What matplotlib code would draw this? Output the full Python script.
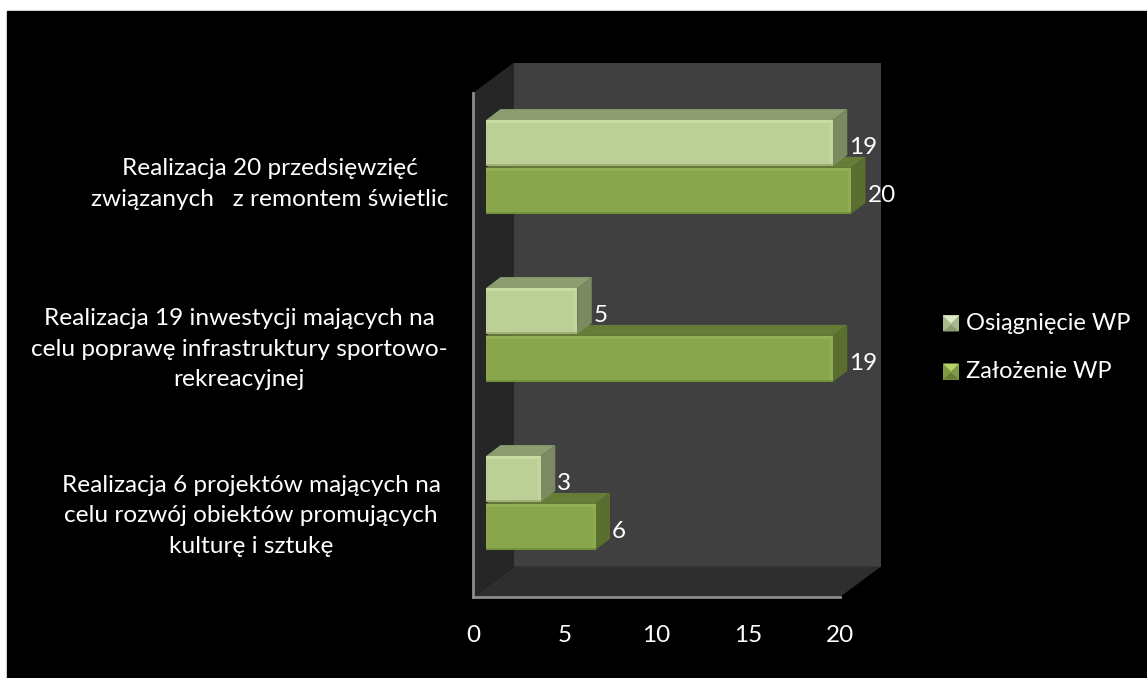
"""
Bar chart - Osiagniecie WP vs Zalozenie WP (fake 3D look)
"""
import matplotlib.pyplot as plt
from matplotlib.patches import Polygon, Rectangle

categories = [
    "Realizacja 6 projektów mających na\ncelu rozwój obiektów promujących\nkulturę i sztukę",
    "Realizacja 19 inwestycji mających na\ncelu poprawę infrastruktury sportowo-\nrekreacyjnej",
    "Realizacja 20 przedsięwzięć\nzwiązanych   z remontem świetlic",
]
osiagniecie = [3, 5, 19]
zalozenie = [6, 19, 20]
x_ticks = [0, 5, 10, 15, 20]

W, H = 1147, 678
plt.rcParams["font.family"] = ["Lato", "DejaVu Sans"]

fig = plt.figure(figsize=(W / 100, H / 100), dpi=100, facecolor="white")

# Black slide background
fig.add_artist(Rectangle((7 / W, 0), 1 - 7 / W, 1 - 11 / H, transform=fig.transFigure,
                         color="black", zorder=-5))

# Axes = front frame of the 3D box
L, R, T, B = 473, 840, 93, 597
ax = fig.add_axes([L / W, 1 - B / H, (R - L) / W, (B - T) / H])
ax.set_xlim(0, 20)
ax.set_ylim(-0.5, 2.5)
ax.patch.set_alpha(0)

PX = 20 / (R - L)
PY = 3 / (B - T)
scale = 18.25 * PX  # bars are drawn slightly shorter than the axis unit

# Walls
dx, dy = 41 * PX, 30.5 * PY
ax.add_patch(Polygon([(20 + dx, 2.5 + dy), (dx, 2.5 + dy), (dx, -0.5 + dy), (20 + dx, -0.5 + dy)],
                     color="#404040", clip_on=False, lw=0, zorder=1))
ax.add_patch(Polygon([(0, -0.5), (dx, -0.5 + dy), (dx, 2.5 + dy), (0, 2.5)],
                     color="#262626", clip_on=False, lw=0, zorder=1))
ax.add_patch(Polygon([(0, -0.5), (20, -0.5), (20 + dx, -0.5 + dy), (dx, -0.5 + dy)],
                     color="#2e2e2e", clip_on=False, lw=0, zorder=1))

# Bar offset from the axis frame, and depth of the bars
ox, oy = 13 * PX, 10 * PY
bx, by = 14.5 * PX, 11 * PY
bar_h = 46 * PY
gap = 1.8 * PY


def draw_bar(cat, val, front, top, side, light, dark, edge, upper, z):
    left = ox
    width = val * scale
    yc = cat + oy
    y0 = yc + gap / 2 if upper else yc - gap / 2 - bar_h
    y1 = y0 + bar_h
    r = left + width

    ax.add_patch(Polygon([(left, y1), (r, y1), (r + bx, y1 + by), (left + bx, y1 + by)],
                         color=top, lw=0, zorder=z, clip_on=False))
    ax.add_patch(Polygon([(r, y0), (r + bx, y0 + by), (r + bx, y1 + by), (r, y1)],
                         color=side, lw=0, zorder=z, clip_on=False))
    ax.barh(y0 + bar_h / 2, width, height=bar_h, left=left, color=front, zorder=z + 0.1, clip_on=False)

    # Bevel strips on the front face
    ax.barh(y1 - 1.5 * PY, width, height=3 * PY, left=left, color=light, zorder=z + 0.2, clip_on=False)
    ax.barh(y0 + 1 * PY, width, height=2 * PY, left=left, color=dark, zorder=z + 0.2, clip_on=False)
    ax.barh(y0 + bar_h / 2, 3 * PX, height=bar_h - 4 * PY, left=r - 3 * PX, color=edge,
            zorder=z + 0.2, clip_on=False)

    ax.text(r + bx + 2 * PX, y0 + bar_h / 2 - 4.5 * PY, str(val), color="white", fontsize=17.5,
            va="center", ha="left", zorder=30)


for i in range(len(categories)):
    base_z = 3 + (2 - i) * 3
    draw_bar(i, zalozenie[i], "#8aa64c", "#667d38", "#5a6e30", "#95b155", "#74903c", "#90ac50", False, base_z)
    draw_bar(i, osiagniecie[i], "#bccf96", "#8d9d70", "#7c8a62", "#c9dc9f", "#9fb07c", "#c2d59c", True, base_z + 1)

# Axis lines
for s in ["top", "right"]:
    ax.spines[s].set_visible(False)
for s in ["left", "bottom"]:
    ax.spines[s].set_color("#8c8c8c")
    ax.spines[s].set_linewidth(2)
    ax.spines[s].set_zorder(2)

ax.set_xticks(x_ticks)
ax.set_yticks([])
ax.tick_params(axis="x", length=0, pad=20, colors="white", labelsize=17.5)

# Category labels, each centred on its own x like the original
label_x = [251, 239, 269.5]
label_y = [516, 349, 184]
for i, label in enumerate(categories):
    fig.text(label_x[i] / W, 1 - label_y[i] / H, label, color="white", fontsize=17.6,
             ha="center", va="center", multialignment="center", linespacing=1.58)

# Legend
legend_names = ["Osiągnięcie WP", "Założenie WP"]
legend_cols = [("#aab98c", "#dfe9c8", "#8d9d70"), ("#7f9a45", "#b5d56a", "#667d38")]
legend_y = [323.5, 371.5]
for name, (base, tri, low), y in zip(legend_names, legend_cols, legend_y):
    x0, s = 943, 16
    fig.add_artist(Rectangle((x0 / W, 1 - (y + s / 2) / H), s / W, s / H, transform=fig.transFigure,
                             color=base, lw=0))
    fig.add_artist(Polygon([(x0 / W, 1 - (y - s / 2) / H), ((x0 + s) / W, 1 - (y - s / 2) / H),
                            ((x0 + s / 2) / W, 1 - y / H)], transform=fig.transFigure, color=tri, lw=0))
    fig.add_artist(Polygon([(x0 / W, 1 - (y + s / 2) / H), ((x0 + s) / W, 1 - (y + s / 2) / H),
                            ((x0 + s / 2) / W, 1 - (y + 1) / H)], transform=fig.transFigure, color=low, lw=0))
    fig.text(966 / W, 1 - y / H, name, color="white", fontsize=17, ha="left", va="center")

fig.savefig("out.png", dpi=100, facecolor="white")
